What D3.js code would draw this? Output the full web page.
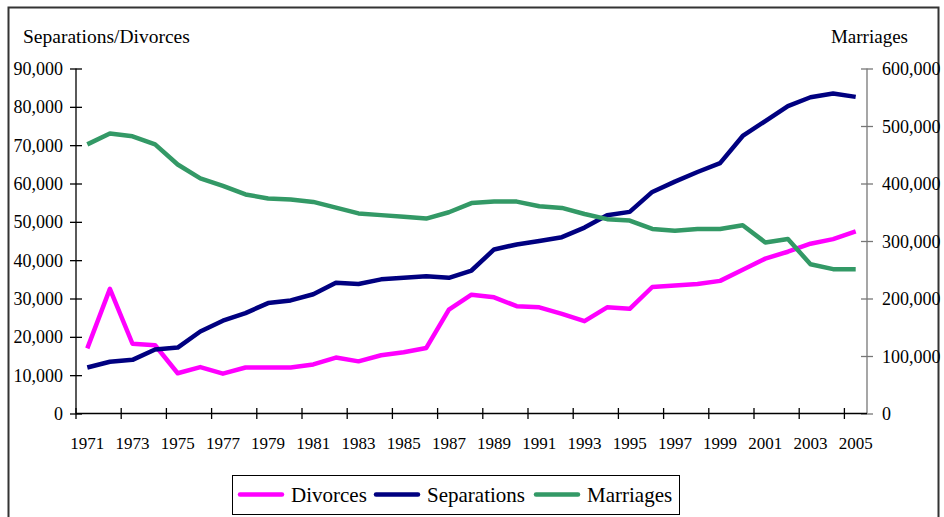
<!DOCTYPE html>
<html>
<head>
<meta charset="utf-8">
<script src="https://cdn.jsdelivr.net/npm/d3@7"></script>
<style>
  html, body { margin: 0; padding: 0; background: #fff; }
  svg { display: block; font-family: "Liberation Serif", "Times New Roman", serif; }
</style>
</head>
<body>
<svg id="chart" width="944" height="517"></svg>
<script>
const years = d3.range(1971, 2006);
const divorces = [17000, 32500, 18200, 17800, 10500, 12100, 10400, 12000, 12000, 12000, 12800, 14600,
  13600, 15200, 16000, 17100, 27100, 31000, 30300, 28000, 27700, 26000, 24100, 27700, 27300,
  33000, 33400, 33800, 34600, 37500, 40400, 42200, 44300, 45500, 47500];
const separations = [12000, 13500, 14000, 16700, 17200, 21400, 24200, 26200, 28800, 29500, 31100, 34100,
  33800, 35000, 35400, 35800, 35400, 37300, 42800, 44100, 45000, 46000, 48500, 51700, 52600,
  57800, 60500, 63000, 65300, 72400, 76300, 80200, 82500, 83500, 82600];
const marriages = [468000, 487000, 482000, 468000, 433000, 409000, 396000, 381000, 374000, 372000, 368000, 358000,
  348000, 345000, 342000, 339000, 350000, 366000, 368500, 368500, 360500, 357500, 347000, 338000, 335500,
  321000, 318000, 321000, 321000, 327500, 297500, 303500, 259500, 251000, 251000];
const leftTicks = [0, 10000, 20000, 30000, 40000, 50000, 60000, 70000, 80000, 90000];
const rightTicks = [0, 100000, 200000, 300000, 400000, 500000, 600000];
const xLabelYears = years.filter((y, i) => i % 2 === 0);
const seriesNames = ["Divorces", "Separations", "Marriages"];
const seriesColors = ["#FF00FF", "#000080", "#339966"];

const svg = d3.select("#chart");
const L = 76, R = 867, T = 68.5, B = 413.5;

// outer frame
svg.append("rect").attr("x", 8.5).attr("y", 7.5).attr("width", 930).attr("height", 540)
  .attr("fill", "none").attr("stroke", "#333").attr("stroke-width", 2);

const x = d3.scaleBand().domain(years).range([L, R]).paddingInner(0).paddingOuter(0);
const yL = d3.scaleLinear().domain([0, 90000]).range([B, T]);
const yR = d3.scaleLinear().domain([0, 600000]).range([B, T]);
const fmt = v => v === 0 ? "0" : d3.format(",")(v);

// left axis
const gL = svg.append("g").attr("transform", `translate(${L},0)`)
  .call(d3.axisLeft(yL).tickValues(leftTicks).tickFormat(fmt).tickSize(6).tickPadding(7));
gL.attr("font-family", null).attr("font-size", null);
gL.select(".domain").attr("stroke", "#000").attr("stroke-width", 1.3).attr("d", `M0,${T}V${B}`);
gL.selectAll(".tick line").attr("x1", -6).attr("x2", 6).attr("stroke", "#000").attr("stroke-width", 1.3);
gL.selectAll(".tick text").attr("font-size", 18).attr("fill", "#000")
  .attr("dy", "0.34em").attr("x", -13);

// right axis
const gR = svg.append("g").attr("transform", `translate(${R},0)`)
  .call(d3.axisRight(yR).tickValues(rightTicks).tickFormat(fmt).tickSize(6).tickPadding(7));
gR.attr("font-family", null).attr("font-size", null);
gR.select(".domain").attr("stroke", "#777").attr("stroke-width", 1.3).attr("d", `M0,${T}V${B}`);
gR.selectAll(".tick line").attr("x1", -6).attr("x2", 6).attr("stroke", "#777").attr("stroke-width", 1.3);
gR.selectAll(".tick text").attr("font-size", 18).attr("fill", "#000")
  .attr("dy", "0.34em").attr("x", 15);

// x axis
const gX = svg.append("g").attr("transform", `translate(0,${B})`)
  .call(d3.axisBottom(x).tickValues(xLabelYears).tickSize(0).tickPadding(23));
gX.attr("font-family", null).attr("font-size", null);
gX.select(".domain").attr("stroke", "#000").attr("stroke-width", 1.3).attr("d", `M${L},0H${R}`);
gX.selectAll(".tick text").attr("font-size", 17).attr("fill", "#000");
svg.append("g").selectAll("line").data(xLabelYears).join("line")
  .attr("x1", d => x(d)).attr("x2", d => x(d))
  .attr("y1", B - 5.5).attr("y2", B + 5.5)
  .attr("stroke", "#000").attr("stroke-width", 1.3);

// axis titles
svg.append("text").attr("x", 23).attr("y", 43).attr("font-size", 19.5).text("Separations/Divorces");
svg.append("text").attr("x", 908).attr("y", 43).attr("font-size", 19).attr("text-anchor", "end").text("Marriages");

// lines
const cx = d => x(d) + x.bandwidth() / 2;
const lineL = d3.line().x((d, i) => cx(years[i])).y(d => yL(d));
const lineR = d3.line().x((d, i) => cx(years[i])).y(d => yR(d));
const paths = [[divorces, lineL], [separations, lineL], [marriages, lineR]];
paths.forEach(([data, gen], i) => {
  svg.append("path").attr("d", gen(data)).attr("fill", "none")
    .attr("stroke", seriesColors[i]).attr("stroke-width", 4.5)
    .attr("stroke-linejoin", "round").attr("stroke-linecap", "butt");
});

// legend
const lg = svg.append("g");
lg.append("rect").attr("x", 232.5).attr("y", 475.5).attr("width", 447).attr("height", 39)
  .attr("fill", "#fff").attr("stroke", "#000").attr("stroke-width", 1);
const legX = [240, 376, 536];
seriesNames.forEach((n, i) => {
  lg.append("line").attr("x1", legX[i]).attr("x2", legX[i] + 42).attr("y1", 494.5).attr("y2", 494.5)
    .attr("stroke", seriesColors[i]).attr("stroke-width", 4.5).attr("stroke-linecap", "round");
  lg.append("text").attr("x", legX[i] + 51).attr("y", 502).attr("font-size", 21).text(n);
});
</script>
</body>
</html>
